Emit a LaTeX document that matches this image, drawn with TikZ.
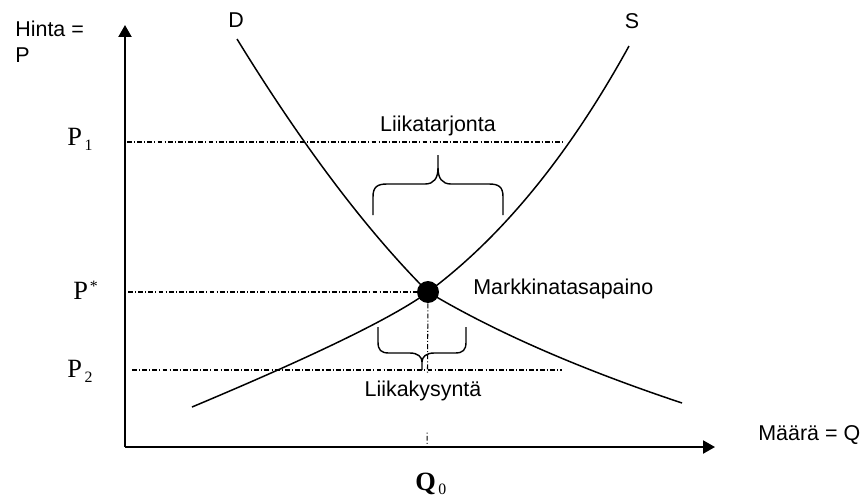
\documentclass[tikz,border=0pt]{standalone}
\usepackage{fontspec}
\setmainfont{Liberation Serif}
\newfontfamily\arialfont{Liberation Sans}
\usetikzlibrary{arrows.meta, positioning}

\begin{document}
\begin{tikzpicture}[
    x=0.02cm, y=-0.02cm,
    akseli/.style={-{Triangle[length=6.8pt, width=7.4pt]}, line width=1.1pt},
    kayra/.style={line width=0.85pt},
    apuviiva/.style={line width=0.6pt, dash pattern=on 2.8pt off 1.2pt on 0.6pt off 1.2pt},
    aalto/.style={line width=0.8pt},
    teksti/.style={font=\arialfont\fontsize{12.2}{14.7}\selectfont, inner sep=0pt},
    merkki/.style={font=\fontsize{15}{18}\selectfont, inner sep=0pt}
]
    \useasboundingbox (0,0) rectangle (864,495);

    % Axes
    \coordinate (origo) at (125,447);
    \coordinate (ykarki) at (125,25);
    \coordinate (xkarki) at (715,447);
    \draw[akseli] (origo) -- (ykarki);
    \draw[akseli] (origo) -- (xkarki);

    % Axis labels
    \node[teksti, anchor=base west, align=left] (hinta) at (15,62) {Hinta =\\P};
    \node[teksti, anchor=base west] (maara) at (758,440) {Määrä = Q};

    % Demand and supply
    \coordinate (tp) at (428,292);
    \coordinate (dalku) at (237,39);
    \coordinate (dloppu) at (682,403);
    \coordinate (salku) at (192,407);
    \coordinate (sloppu) at (629,46);
    \draw[kayra] (dalku) .. controls (304,148) and (368,232) .. (tp)
        .. controls (495,332) and (580,369) .. (dloppu);
    \draw[kayra] (salku) .. controls (316,355) and (394,317) .. (tp)
        .. controls (502,237) and (569,155) .. (sloppu);
    \node[teksti] (dnimi) at (236,20) {D};
    \node[teksti] (snimi) at (632,21) {S};

    % Equilibrium
    \node[circle, fill, minimum size=12.5pt, inner sep=0pt] (tasapaino) at (tp) {};
    \node[teksti, anchor=base west] (markkina) at (473,294) {Markkinatasapaino};

    % Price levels
    \coordinate (p1) at (127,142);
    \coordinate (p1loppu) at (565,142);
    \coordinate (ptahti) at (128,292);
    \coordinate (p2) at (132,370);
    \coordinate (p2loppu) at (562,370);
    \coordinate (q0) at (427,447);
    \draw[apuviiva] (p1) -- (p1loppu);
    \draw[apuviiva] (ptahti) -- (tasapaino);
    \draw[apuviiva] (p2) -- (p2loppu);
    \draw[apuviiva] (tasapaino) -- (q0);

    \node[merkki, anchor=base west] (p1nimi) at (67,145) {P\hspace{1.5pt}\raisebox{-3pt}{\fontsize{9}{10}\selectfont 1}};
    \node[merkki, anchor=base west] (ptnimi) at (73,299) {P\hspace{1pt}\raisebox{4pt}{\fontsize{9}{10}\selectfont *}};
    \node[merkki, anchor=base west] (p2nimi) at (67,377) {P\hspace{1.5pt}\raisebox{-3pt}{\fontsize{9}{10}\selectfont 2}};
    \node[merkki, anchor=base west] (q0nimi) at (415,490) {\textbf{Q}\hspace{1.5pt}\raisebox{-2.3pt}{\fontsize{9}{10}\selectfont 0}};

    % Excess supply
    \draw[aalto] (373,215) -- (373,197) .. controls (373,187) and (377,184) .. (387,184) -- (425,184)
        .. controls (434,184) and (438,178) .. (438,168) -- (438,155);
    \draw[aalto] (438,168) .. controls (438,178) and (442,184) .. (451,184) -- (489,184)
        .. controls (499,184) and (503,187) .. (503,197) -- (503,215);
    \node[teksti, anchor=base] (liikatarjonta) at (438,131) {Liikatarjonta};

    % Excess demand
    \draw[aalto] (378,327) -- (378,342) .. controls (378,350) and (381,353) .. (389,353) -- (410,353)
        .. controls (418,353) and (422,357) .. (422,362) -- (422,370);
    \draw[aalto] (422,362) .. controls (422,357) and (426,353) .. (434,353) -- (455,353)
        .. controls (463,353) and (466,350) .. (466,342) -- (466,327);
    \node[teksti, anchor=base, fill=white, inner xsep=1pt, text height=12.4pt, text depth=20.4pt] (liikakysynta) at (423,396) {Liikakysyntä};
\end{tikzpicture}
\end{document}
